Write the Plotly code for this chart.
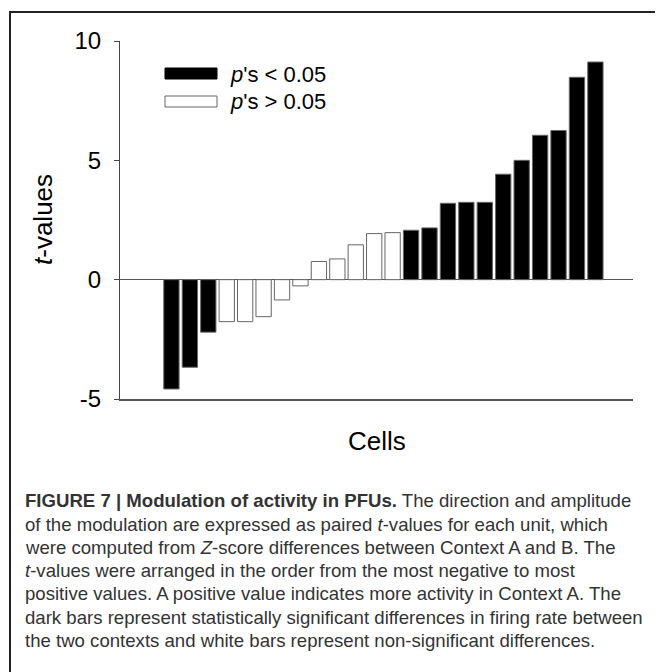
import plotly.graph_objects as go

# ---- data ----
cells = list(range(1, 25))
t_values = [-4.58, -3.67, -2.20, -1.76, -1.76, -1.55, -0.85, -0.26,
            0.76, 0.87, 1.46, 1.93, 1.97, 2.07, 2.17, 3.20, 3.24, 3.24,
            4.42, 5.00, 6.05, 6.25, 8.48, 9.12]
significant = [True, True, True, False, False, False, False, False,
               False, False, False, False, False, True, True, True, True, True,
               True, True, True, True, True, True]
legend_labels = ["<i>p</i>'s &lt; 0.05", "<i>p</i>'s &gt; 0.05"]
y_ticks = [-5, 0, 5, 10]
y_ticktext = ["-5", "0", "5", "10"]

caption_lines = [
    "<b>FIGURE 7 | Modulation of activity in PFUs.</b> The direction and amplitude",
    "of the modulation are expressed as paired <i>t</i>-values for each unit, which",
    "were computed from <i>Z</i>-score differences between Context A and B. The",
    "<i>t</i>-values were arranged in the order from the most negative to most",
    "positive values. A positive value indicates more activity in Context A. The",
    "dark bars represent statistically significant differences in firing rate between",
    "the two contexts and white bars represent non-significant differences.",
]

OFF = 8  # page body margin
W, H = 663 - OFF, 672 - OFF
L, R, T, B = 120 - OFF, 633 - OFF, 41 - OFF, 399 - OFF
FONT = "Arial, 'Liberation Sans', Helvetica, sans-serif"
CAP_FONT = "Arial, 'Liberation Sans', Helvetica, sans-serif"


def px(x):
    return (x - OFF - L) / (R - L)


def py(y):
    return (B - (y - OFF)) / (B - T)


colors = ["black" if s else "white" for s in significant]

fig = go.Figure()
fig.add_trace(go.Bar(
    x=cells, y=t_values,
    marker=dict(color=colors, line=dict(color="#666666", width=1)),
    showlegend=False,
))

shapes = [
    dict(type="rect", xref="paper", yref="paper", x0=px(165), x1=px(217),
         y0=py(79), y1=py(68), fillcolor="black", line=dict(color="black", width=1)),
    dict(type="rect", xref="paper", yref="paper", x0=px(165), x1=px(217),
         y0=py(107), y1=py(96), fillcolor="white", line=dict(color="#666666", width=1)),
    dict(type="rect", xref="paper", yref="paper", x0=px(10), x1=px(700),
         y0=py(700), y1=py(12), fillcolor="rgba(0,0,0,0)", line=dict(color="#222222", width=2)),
]

annotations = [
    dict(text=legend_labels[0], xref="paper", yref="paper", x=px(228), y=py(74),
         xanchor="left", yanchor="middle", showarrow=False,
         font=dict(family=FONT, size=22, color="black")),
    dict(text=legend_labels[1], xref="paper", yref="paper", x=px(228), y=py(102),
         xanchor="left", yanchor="middle", showarrow=False,
         font=dict(family=FONT, size=22, color="black")),
    dict(text="Cells", xref="paper", yref="paper", x=px(377), y=py(441),
         xanchor="center", yanchor="middle", showarrow=False,
         font=dict(family=FONT, size=26, color="black")),
    dict(text="<i>t</i>-values", xref="paper", yref="paper", x=px(43), y=py(220),
         xanchor="center", yanchor="middle", showarrow=False, textangle=-90,
         font=dict(family=FONT, size=26, color="black")),
]

line_y0, line_dy = 501, 23.2
for i, line in enumerate(caption_lines):
    annotations.append(dict(
        text=line, xref="paper", yref="paper", x=px(23), y=py(line_y0 + i * line_dy),
        xanchor="left", yanchor="middle", showarrow=False,
        font=dict(family=CAP_FONT, size=18.6, color="#333333"),
    ))

fig.update_layout(
    width=W, height=H,
    margin=dict(l=L, r=W - R, t=T, b=H - B, pad=0),
    paper_bgcolor="white", plot_bgcolor="white",
    bargap=0.17,
    shapes=shapes, annotations=annotations,
    font=dict(family=FONT, color="black"),
)
fig.update_xaxes(
    range=[-1.79, 26.04], showgrid=False, zeroline=False,
    showticklabels=False, ticks="",
    showline=True, linecolor="#555555", linewidth=1.5,
)
fig.update_yaxes(
    range=[-5, 10], tickvals=y_ticks, ticktext=y_ticktext, showgrid=False,
    zeroline=True, zerolinecolor="#555555", zerolinewidth=1.2,
    showline=True, linecolor="#444444", linewidth=1,
    ticks="outside", ticklen=5, tickcolor="#444444", tickwidth=1,
    tickfont=dict(family=FONT, size=24, color="black"),
    ticklabelstandoff=8,
)

fig.write_html("out.html")
